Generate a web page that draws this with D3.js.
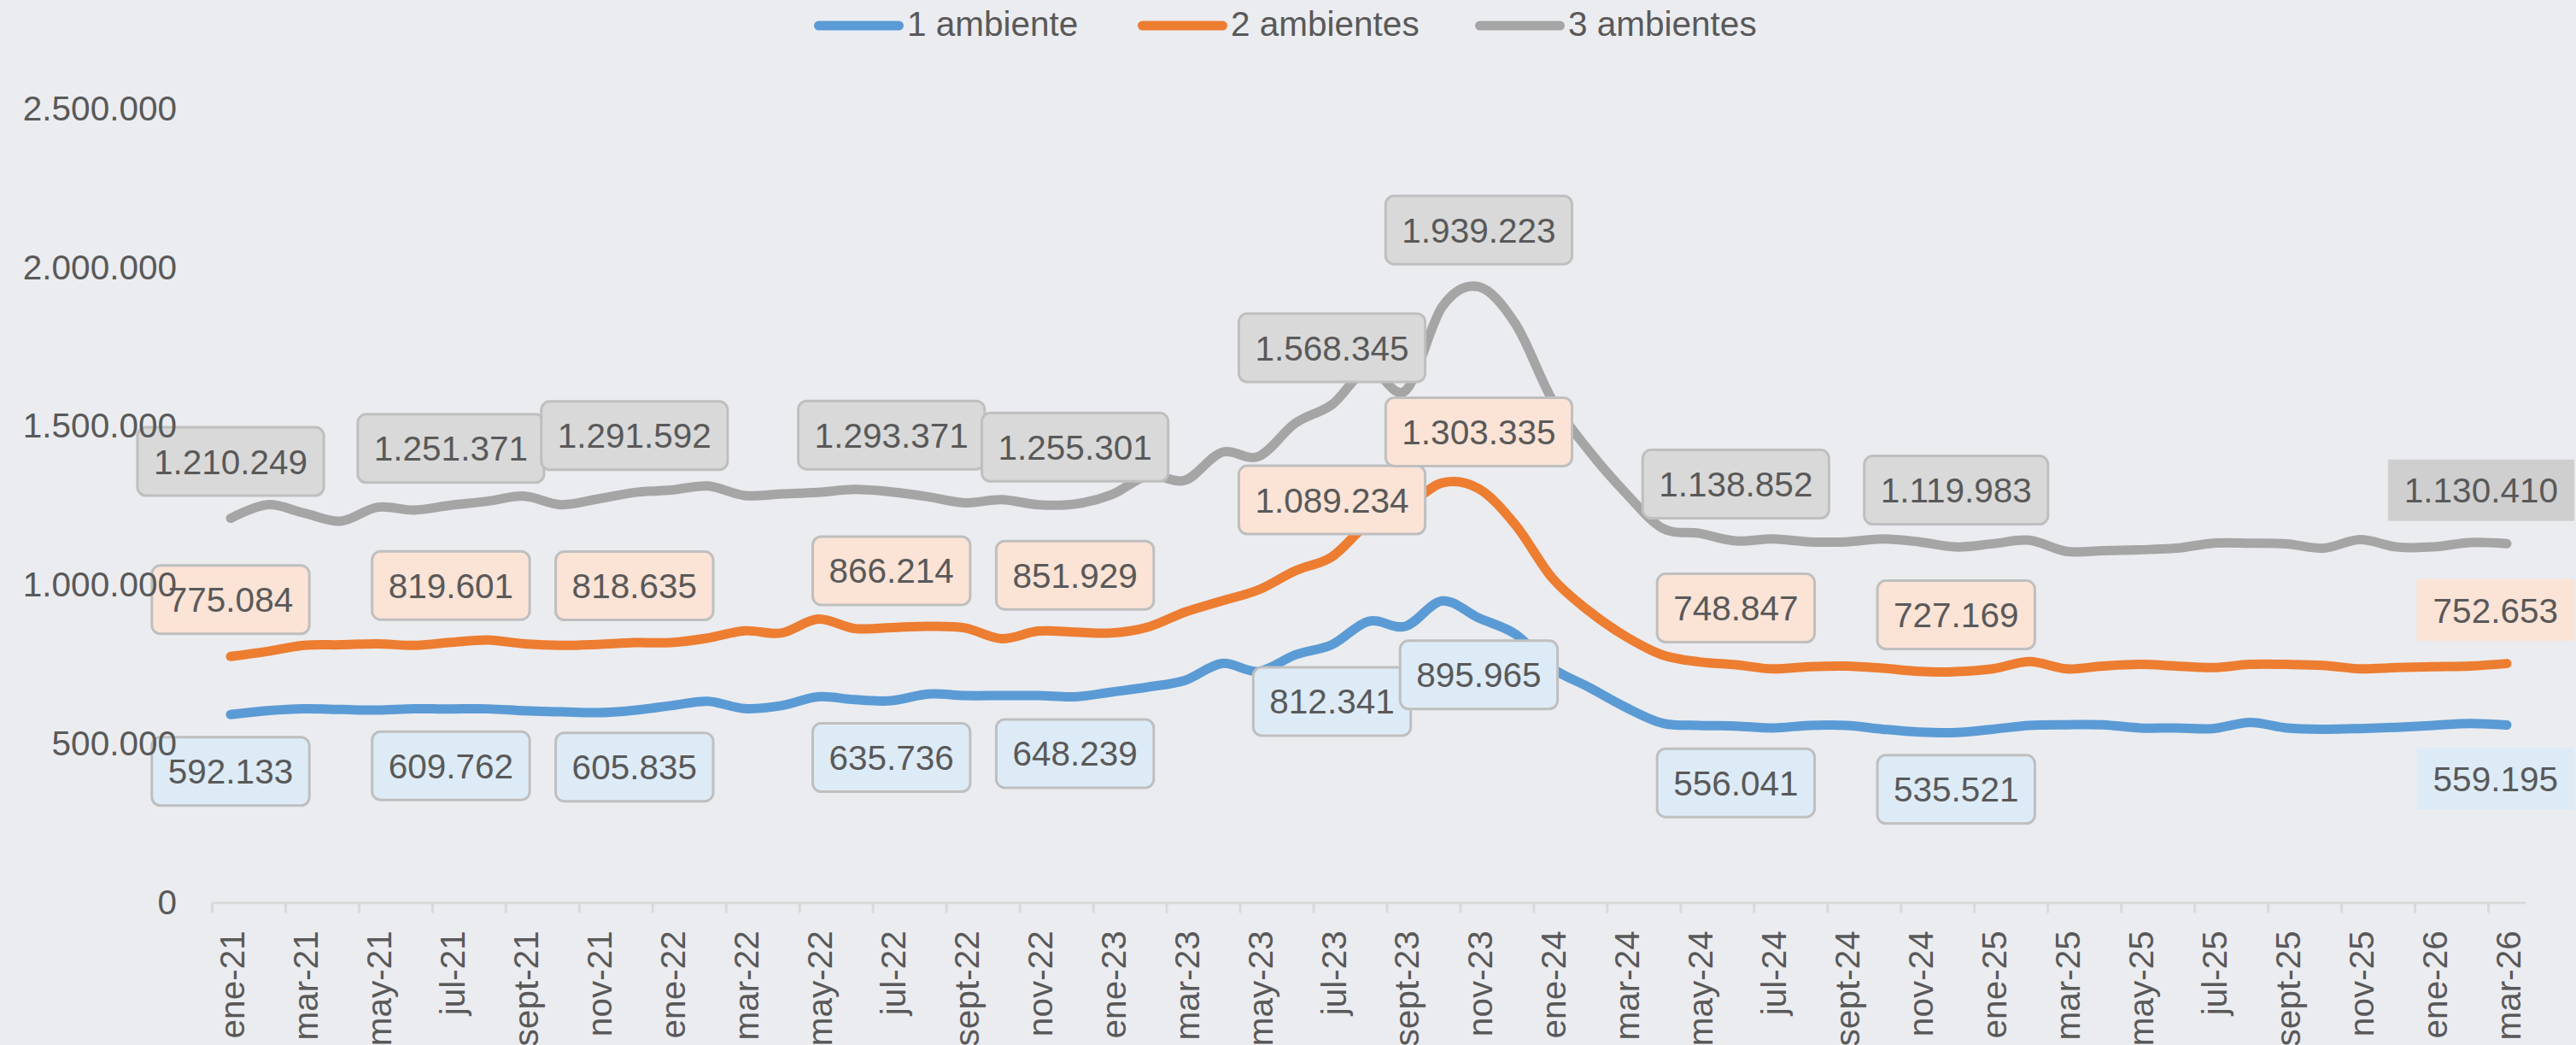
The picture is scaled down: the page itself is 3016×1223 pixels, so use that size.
<!DOCTYPE html>
<html><head><meta charset="utf-8">
<script src="https://cdn.jsdelivr.net/npm/d3@7"></script>
<style>html,body{margin:0;padding:0;background:#EBECF0;overflow:hidden}</style>
</head><body>
<script>
// ---------- DATA ----------
const categories = [
  "ene-21","feb-21","mar-21","abr-21","may-21","jun-21","jul-21","ago-21","sept-21","oct-21","nov-21","dic-21",
  "ene-22","feb-22","mar-22","abr-22","may-22","jun-22","jul-22","ago-22","sept-22","oct-22","nov-22","dic-22",
  "ene-23","feb-23","mar-23","abr-23","may-23","jun-23","jul-23","ago-23","sept-23","oct-23","nov-23","dic-23",
  "ene-24","feb-24","mar-24","abr-24","may-24","jun-24","jul-24","ago-24","sept-24","oct-24","nov-24","dic-24",
  "ene-25","feb-25","mar-25","abr-25","may-25","jun-25","jul-25","ago-25","sept-25","oct-25","nov-25","dic-25",
  "ene-26","feb-26","mar-26"
];
const seriesNames = ["1 ambiente", "2 ambientes", "3 ambientes"];
const amb1 = [592133,604000,610000,608000,606000,610000,609762,610000,604000,601000,598000,605835,
  620000,634000,611000,620000,648000,639000,635736,657000,652000,652000,652000,648239,
  663000,679000,700000,753000,728000,780000,812341,886000,870000,950000,895965,845000,
  738000,678000,615000,565000,558000,556041,550000,558000,558000,546000,537000,535521,
  546000,558000,560000,560000,550000,550000,548000,567000,550000,546000,548000,552000,
  558000,564000,559195];
const amb2 = [775084,791000,810000,812000,815000,810000,819601,827000,815000,810000,813000,818635,
  819000,833000,856000,849000,893000,863000,866214,870000,865000,831000,855000,851929,
  849000,868000,915000,950000,985000,1045000,1089234,1195000,1245000,1322000,1303335,1189000,
  1022000,918000,838000,780000,758000,748847,736000,743000,745000,738000,728000,727169,
  736000,759000,736000,745000,750000,745000,740000,750000,750000,747000,736000,740000,
  743000,745000,752653];
const amb3 = [1210249,1253000,1227000,1201000,1245000,1236000,1251371,1264000,1280000,1253000,1271000,1291592,
  1299000,1312000,1282000,1287000,1292000,1301000,1293371,1278000,1259000,1269000,1253000,1255301,
  1285000,1345000,1330000,1418000,1405000,1510000,1568345,1680000,1612000,1876000,1939223,1822000,
  1583000,1423000,1290000,1179000,1163000,1138852,1145000,1136000,1136000,1145000,1136000,1119983,
  1130000,1141000,1106000,1108000,1111000,1116000,1132000,1132000,1130000,1116000,1143000,1120000,
  1120000,1134000,1130410];
const labelIndices = [0, 6, 11, 18, 23, 30, 34, 41, 47, 62];
const yTicks = [0, 500000, 1000000, 1500000, 2000000, 2500000];

// ---------- STYLE ----------
const W = 3016, H = 1223;
const FONT = "'Liberation Sans', Arial, sans-serif";
const FS = 40.5;
const TXT = "#595959";
const colors = ["#5B9BD5", "#ED7D31", "#A5A5A5"];
const boxFill = ["#DDEBF7", "#FBE3D6", "#D9D9D9"];
const lastFill = ["#DDEBF7", "#FBE3D6", "#CFCFCF"];
const labelPos = ["below", "above", "above"];

const svg = d3.select("body").append("svg").attr("width", W).attr("height", H).style("display", "block");
svg.append("rect").attr("width", W).attr("height", H).attr("fill", "#EBECF0");

const x = d3.scaleBand().domain(categories).range([248.5, 2956.5]).padding(0);
const y = d3.scaleLinear().domain([0, 2500000]).range([1056.3, 127.3]);
const bw = x.bandwidth();
const cx = i => x(categories[i]) + bw / 2;

const loc = d3.formatLocale({decimal: ",", thousands: ".", grouping: [3], currency: ["$", ""]});
const fmt = loc.format(",d");

// X axis
const xAxisG = svg.append("g").attr("transform", `translate(0,${y(0)})`)
  .call(d3.axisBottom(x).tickValues(categories.filter((d, i) => i % 2 === 0)).tickSize(12).tickSizeOuter(0));
xAxisG.attr("font-family", FONT).attr("font-size", FS);
xAxisG.select(".domain").attr("stroke", "#D9D9D9").attr("stroke-width", 3);
xAxisG.selectAll(".tick line").attr("x1", -bw / 2).attr("x2", -bw / 2)
  .attr("stroke", "#D9D9D9").attr("stroke-width", 3);
xAxisG.selectAll(".tick text")
  .attr("x", 0).attr("y", 0).attr("dy", 0)
  .attr("text-anchor", "end")
  .attr("transform", "translate(16,33) rotate(-90)")
  .attr("fill", TXT);

// Lines
const allSeries = [amb1, amb2, amb3];
const line = d3.line().x((d, i) => cx(i)).y(d => y(d)).curve(d3.curveCardinal.tension(0));
svg.append("g").selectAll("path").data(allSeries).join("path")
  .attr("d", d => line(d))
  .attr("fill", "none")
  .attr("stroke", (d, i) => colors[i])
  .attr("stroke-width", 11)
  .attr("stroke-linecap", "round")
  .attr("stroke-linejoin", "round");

// Data labels
const labelsG = svg.append("g").attr("font-family", FONT).attr("font-size", FS);
allSeries.forEach((vals, s) => {
  labelIndices.forEach(i => {
    const isLast = i === categories.length - 1;
    const g = labelsG.append("g");
    const t = g.append("text").text(fmt(vals[i])).attr("fill", TXT).attr("text-anchor", "middle");
    const tw = t.node().getComputedTextLength();
    const bwid = tw + 38;
    const bh = isLast ? 72 : 80;
    const off = isLast ? 62.5 : 66.5;
    const py = y(vals[i]);
    const cy = labelPos[s] === "above" ? py - off : py + off;
    let bx = cx(i);
    if (bx + bwid / 2 > W - 2) bx = W - 2 - bwid / 2;
    const r = g.insert("rect", "text")
      .attr("x", bx - bwid / 2).attr("y", cy - bh / 2)
      .attr("width", bwid).attr("height", bh);
    if (isLast) {
      r.attr("fill", lastFill[s]);
    } else {
      r.attr("fill", boxFill[s]).attr("stroke", "#BFBFBF").attr("stroke-width", 3).attr("rx", 10).attr("ry", 10);
    }
    t.attr("x", bx).attr("y", cy + 14.5);
  });
});

// Y axis (drawn on top of data labels, as in the reference)
const yAxisG = svg.append("g").attr("transform", "translate(248.5,0)")
  .call(d3.axisLeft(y).tickValues(yTicks).tickFormat(fmt).tickSize(0).tickPadding(41.5));
yAxisG.attr("font-family", FONT).attr("font-size", FS);
yAxisG.select(".domain").remove();
yAxisG.selectAll("text").attr("fill", TXT);

// Legend
const legendX = [953, 1332, 1727];
const legG = svg.append("g").attr("font-family", FONT).attr("font-size", FS);
const items = legG.selectAll("g").data(seriesNames).join("g")
  .attr("transform", (d, i) => `translate(${legendX[i]},30)`);
items.append("line").attr("x1", 5.5).attr("x2", 99.5).attr("y1", 0).attr("y2", 0)
  .attr("stroke", (d, i) => colors[i]).attr("stroke-width", 11).attr("stroke-linecap", "round");
items.append("text").attr("x", 109).attr("y", 11.5).attr("fill", TXT).text(d => d);
</script>
</body></html>
